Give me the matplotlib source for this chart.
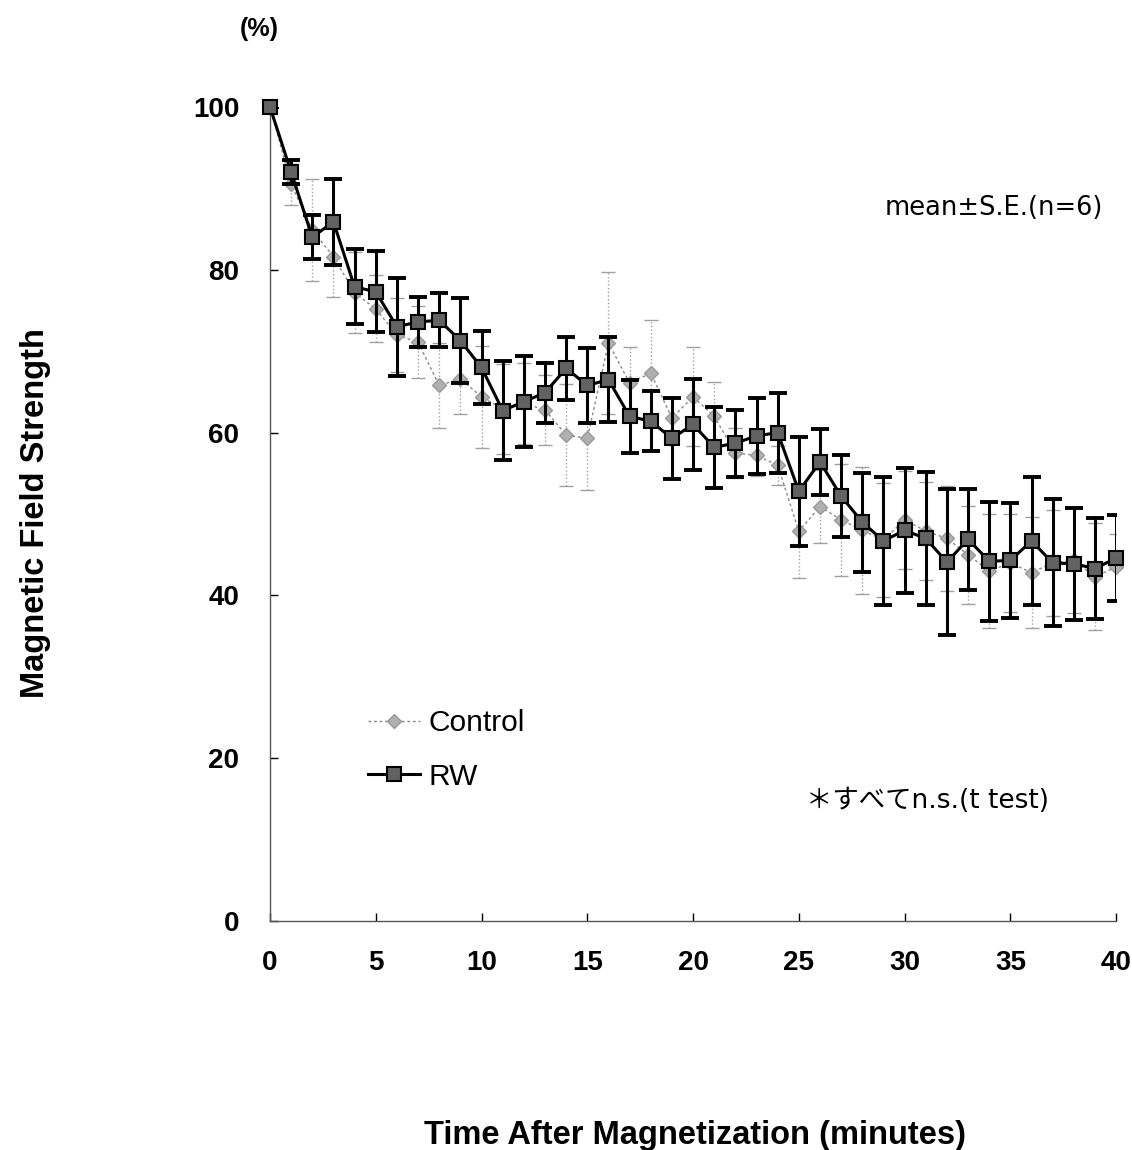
import matplotlib
matplotlib.use("Agg")
import matplotlib.pyplot as plt
import numpy as np

minutes = list(range(0, 41))
rw_mean = [100, 92, 84, 85.9, 77.9, 77.3, 73, 73.6, 73.8, 71.3, 68, 62.7, 63.8, 64.9, 67.9,
           65.8, 66.5, 62, 61.4, 59.3, 61, 58.2, 58.7, 59.6, 60, 52.8, 56.4, 52.2, 49, 46.7,
           48, 47, 44.1, 46.9, 44.2, 44.3, 46.7, 44, 43.9, 43.3, 44.6]
rw_se = [0, 1.5, 2.7, 5.3, 4.6, 5, 6, 3.1, 3.3, 5.2, 4.5, 6.1, 5.6, 3.7, 3.9, 4.6, 5.2, 4.5,
         3.7, 5, 5.6, 5, 4.1, 4.7, 4.9, 6.7, 4.1, 5, 6.1, 7.9, 7.7, 8.2, 9, 6.2, 7.3, 7.1,
         7.9, 7.8, 6.9, 6.2, 5.3]
ctrl_mean = [100, 90.5, 84.9, 81.6, 77.2, 75.2, 72, 71.1, 65.8, 66.6, 64.4, 62.9, 63.6, 62.8,
             59.7, 59.3, 71, 66.1, 67.3, 61.8, 64.4, 62, 57.5, 57.2, 56, 47.9, 50.9, 49.3,
             48, 46.8, 49.3, 47.9, 47, 45, 43, 44, 42.8, 44, 44.3, 42.3, 43.5]
ctrl_se = [0, 2.5, 6.3, 4.9, 5, 4.1, 4.5, 4.4, 5.2, 4.3, 6.3, 5.5, 5, 4.3, 6.3, 6.3, 8.7,
           4.4, 6.5, 2.6, 6.1, 4.2, 3.1, 2.5, 2.4, 5.8, 4.5, 6.9, 7.8, 7, 6, 6, 6.5, 6, 7,
           6, 6.8, 6.5, 6.5, 6.6, 4]
yticks = [0, 20, 40, 60, 80, 100]
xticks = [0, 5, 10, 15, 20, 25, 30, 35, 40]

plt.rcParams['font.family'] = ['Liberation Sans', 'Noto Sans CJK JP', 'DejaVu Sans']

fig = plt.figure(figsize=(11.32, 11.5), dpi=100)
ax = fig.add_axes([0.2385, 0.199, 0.7475, 0.708])

# Control
ec = ax.errorbar(minutes, ctrl_mean, yerr=ctrl_se, fmt='none', ecolor='#a0a0a0',
                 elinewidth=1.0, capsize=5, capthick=1.0, zorder=2)
for c in ec[2]:
    c.set_linestyle(':')
ax.plot(minutes, ctrl_mean, linestyle=(0, (2, 2)), color='#888888', linewidth=1.0,
        marker='D', markersize=7, markerfacecolor='#b0b0b0', markeredgecolor='#999999',
        label='Control', zorder=3, clip_on=False)

# RW
ax.errorbar(minutes, rw_mean, yerr=rw_se, fmt='none', ecolor='black',
            elinewidth=2.2, capsize=6.5, capthick=2.8, zorder=4)
ax.plot(minutes, rw_mean, linestyle='-', color='black', linewidth=2.2,
        marker='s', markersize=10.5, markerfacecolor='#626262', markeredgecolor='black',
        markeredgewidth=1.5, label='RW', zorder=5, clip_on=False)

ax.set_xlim(0, 40)
ax.set_ylim(0, 100)
ax.set_xticks(xticks)
ax.set_yticks(yticks)
ax.tick_params(direction='in', length=6, width=1, labelsize=20)
ax.tick_params(axis='y', pad=22)
ax.tick_params(axis='x', pad=21)
for lab in ax.get_xticklabels() + ax.get_yticklabels():
    lab.set_fontweight('bold')
for s in ['top', 'right']:
    ax.spines[s].set_visible(False)
for s in ['left', 'bottom']:
    ax.spines[s].set_color('#555555')
    ax.spines[s].set_linewidth(1)

fig.text(0.031, 0.5535, 'Magnetic Field Strength', rotation=90, ha='center', va='center',
         fontsize=23.5, fontweight='bold')
fig.text(0.614, 0.013, 'Time After Magnetization (minutes)', ha='center', va='center',
         fontsize=23.5, fontweight='bold')
fig.text(0.229, 0.975, '(%)', ha='center', va='center', fontsize=18, fontweight='bold')

ax.text(0.985, 0.876, 'mean±S.E.(n=6)', transform=ax.transAxes, ha='right', va='center',
        fontsize=18.5, family=['DejaVu Sans'])
ax.text(0.633, 0.148, '＊すべてn.s.(t test)', transform=ax.transAxes, ha='left', va='center',
        fontsize=19, family=['DejaVu Sans', 'Noto Sans CJK JP'])

leg = ax.legend(loc='center left', bbox_to_anchor=(0.1017, 0.21), borderaxespad=0,
                frameon=False, fontsize=21.5, handlelength=1.75, handletextpad=0.27,
                labelspacing=0.85)

fig.savefig('out.png', dpi=100)
